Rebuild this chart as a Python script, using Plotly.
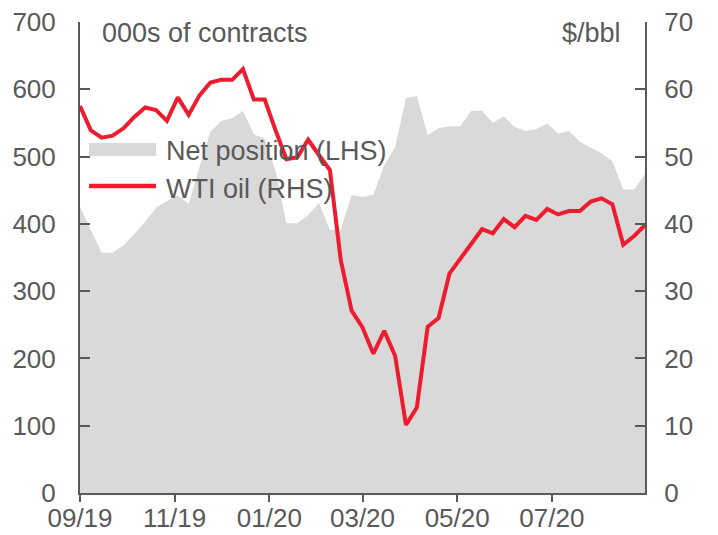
import pandas as pd
import plotly.graph_objects as go

# tyzdenne data, sep 2019 - sep 2020
weeks = pd.date_range('2019-09-01', periods=53, freq='7D')

# cista pozicia (tis. kontraktov, LHS)
net_position = [425, 391, 357, 357, 368, 385, 403, 424, 434, 442, 430, 485, 537, 553,
                557, 568, 533, 527, 478, 401, 401, 413, 431, 391, 391, 443, 440, 443,
                487, 514, 587, 590, 532, 542, 545, 545, 568, 568, 550, 560, 544, 538,
                541, 549, 534, 538, 522, 513, 505, 493, 451, 451, 474]

# WTI ($/bbl, RHS)
wti = [57.5, 53.9, 52.8, 53.1, 54.2, 55.9, 57.3, 56.9, 55.3, 58.8, 56.2, 59.1, 61.0, 61.4,
       61.4, 63.0, 58.5, 58.5, 53.9, 49.6, 49.9, 52.5, 50.2, 48.0, 34.6, 27.1, 24.6, 20.7,
       24.1, 20.4, 10.1, 12.7, 24.7, 26.0, 32.6, 34.9, 37.0, 39.2, 38.6, 40.7, 39.5, 41.2,
       40.6, 42.2, 41.4, 41.9, 41.9, 43.3, 43.8, 42.9, 36.9, 38.2, 39.8]

tick_dates = ['2019-09-01', '2019-11-01', '2020-01-01', '2020-03-01', '2020-05-01', '2020-07-01']
tick_labels = ['09/19', '11/19', '01/20', '03/20', '05/20', '07/20']

GREY = '#595959'
AREA = '#d9d9d9'
RED = '#ed1c2e'
FONT = 'Liberation Sans, Arial, sans-serif'

fig = go.Figure()
fig.add_trace(go.Scatter(x=weeks, y=net_position, mode='lines', fill='tozeroy',
                         fillcolor=AREA, line=dict(width=0, color=AREA),
                         name='Net position (LHS)'))
fig.add_trace(go.Scatter(x=weeks, y=wti, mode='lines', yaxis='y2',
                         line=dict(color=RED, width=4), name='WTI oil (RHS)'))

axis_style = dict(showline=True, linewidth=2, linecolor=GREY, showgrid=False, zeroline=False,
                  automargin=False, ticklabeloverflow='allow', tickwidth=2, tickcolor=GREY,
                  tickfont=dict(size=26, color=GREY, family=FONT))

# stranka ma 8px okraj (body margin), preto su okraje posunute
fig.update_layout(
    width=718, height=535,
    margin=dict(l=72, r=81, t=14, b=50),
    plot_bgcolor='white', paper_bgcolor='white',
    showlegend=False,
    font=dict(family=FONT, size=27, color=GREY),
    xaxis=dict(type='date', range=[weeks[0], weeks[-1]], tickmode='array',
               tickvals=tick_dates, ticktext=tick_labels, ticks='outside', ticklen=7,
               ticklabelstandoff=-6, **axis_style),
    yaxis=dict(range=[0, 700], dtick=100, ticks='inside', ticklen=10,
               ticklabelstandoff=17, **axis_style),
    yaxis2=dict(range=[0, 70], dtick=10, ticks='inside', ticklen=10, overlaying='y',
                side='right', ticklabelstandoff=12, **axis_style),
)

# jednotky os
fig.add_annotation(text='000s of contracts', xref='paper', yref='paper', x=0.035, y=0.977,
                   xanchor='left', yanchor='middle', showarrow=False)
fig.add_annotation(text='$/bbl', xref='paper', yref='paper', x=0.961, y=0.977,
                   xanchor='right', yanchor='middle', showarrow=False)

# legenda rucne (sirsie symboly ako v plotly)
fig.add_shape(type='rect', xref='paper', yref='paper', x0=0.016, x1=0.1345, y0=0.7155, y1=0.743,
              fillcolor=AREA, line=dict(width=0))
fig.add_shape(type='line', xref='paper', yref='paper', x0=0.016, x1=0.1345, y0=0.652, y1=0.652,
              line=dict(color=RED, width=4.5))
fig.add_annotation(text='Net position (LHS)', xref='paper', yref='paper', x=0.1487, y=0.726,
                   xanchor='left', yanchor='middle', showarrow=False)
fig.add_annotation(text='WTI oil (RHS)', xref='paper', yref='paper', x=0.1487, y=0.645,
                   xanchor='left', yanchor='middle', showarrow=False)

fig.write_html("out.html")
